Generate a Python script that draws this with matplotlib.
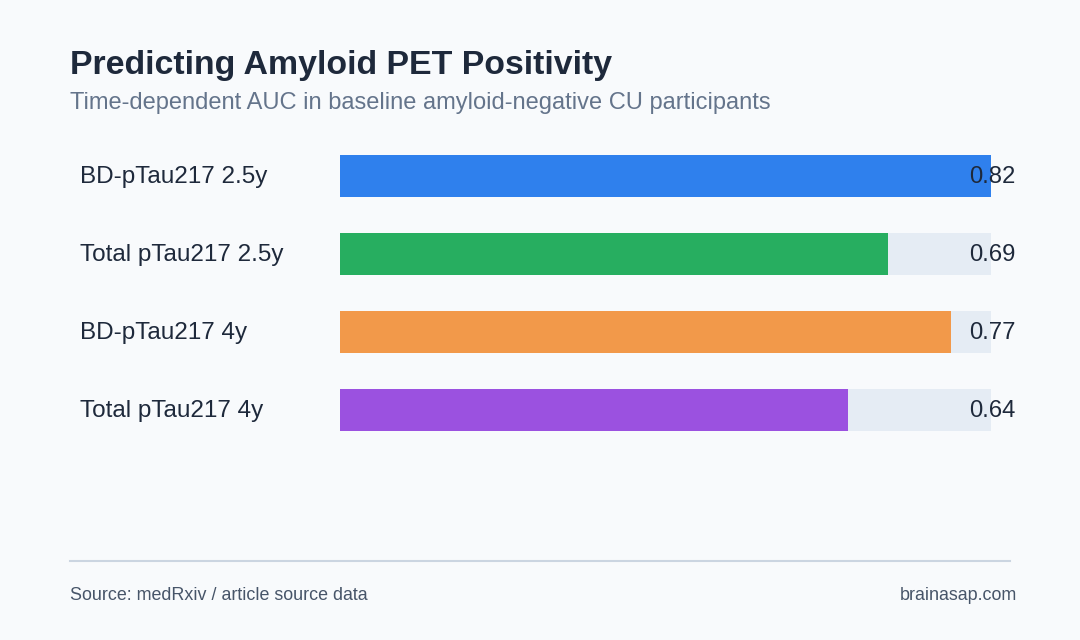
import matplotlib.pyplot as plt
from matplotlib.lines import Line2D

plt.rcParams['font.family'] = ['Liberation Sans', 'DejaVu Sans']

labels = ['BD-pTau217 2.5y', 'Total pTau217 2.5y', 'BD-pTau217 4y', 'Total pTau217 4y']
auc = [0.82, 0.69, 0.77, 0.64]
colors = ['#2f80ed', '#27ae60', '#f2994a', '#9b51e0']

bg = '#f8fafc'
dark = '#1e293b'
muted = '#64748b'
track = '#e5ecf4'

fig = plt.figure(figsize=(10.8, 6.4), dpi=100, facecolor=bg)

# bar area: x 340..991 px, rows centred at 176, 254, 332, 410 px
ax = fig.add_axes([340 / 1080, 1 - 449 / 640, 651 / 1080, 312 / 640])
ax.set_facecolor(bg)
vmax = max(auc)
ypos = range(len(auc))
ax.barh(ypos, [vmax] * len(auc), height=0.55, color=track, zorder=1)
ax.barh(ypos, auc, height=0.55, color=colors, zorder=2)
ax.set_xlim(0, vmax)
ax.set_ylim(len(auc) - 0.5, -0.5)
ax.axis('off')

for i, (lab, v) in enumerate(zip(labels, auc)):
    y = 1 - (177 + 78 * i) / 640
    fig.text(80 / 1080, y, lab, fontsize=17.5, color=dark, ha='left', va='center')
    fig.text(1016 / 1080, y, f'{v:.2f}', fontsize=17.2, color=dark, ha='right', va='center')

fig.text(70 / 1080, 1 - 74 / 640, 'Predicting Amyloid PET Positivity',
         fontsize=24.4, fontweight='bold', color=dark, ha='left', va='baseline')
fig.text(70 / 1080, 1 - 109 / 640,
         'Time-dependent AUC in baseline amyloid-negative CU participants',
         fontsize=17, color=muted, ha='left', va='baseline')

fig.add_artist(Line2D([70 / 1080, 1010 / 1080], [1 - 561 / 640] * 2,
                      transform=fig.transFigure, color='#cbd5e1', lw=1.5))
fig.text(70 / 1080, 1 - 596 / 640, 'Source: medRxiv / article source data',
         fontsize=12.9, color='#475569', ha='left', va='center')
fig.text(1017 / 1080, 1 - 596 / 640, 'brainasap.com',
         fontsize=12.9, color='#475569', ha='right', va='center')

fig.savefig('out.png', facecolor=bg)
